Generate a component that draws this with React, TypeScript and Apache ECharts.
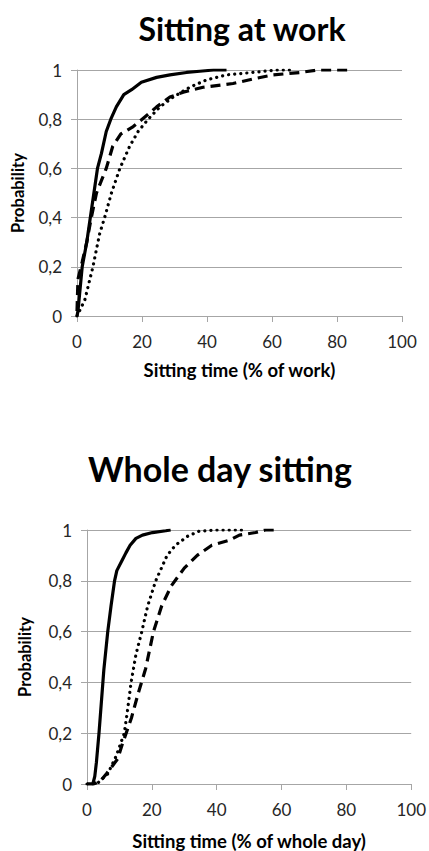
import React, { useEffect, useRef } from "react";
import * as echarts from "echarts";

// Top chart: Sitting at work (x = % of work, y = cumulative probability)
const workSolid: [number, number][] = [
  [0, 0], [0.3, 0.02], [1.6, 0.2], [3, 0.3], [4.1, 0.4], [5.2, 0.5], [6.3, 0.6], [7.5, 0.66],
  [9, 0.75], [10.4, 0.8], [12.1, 0.85], [14.4, 0.9], [16.8, 0.92], [17.8, 0.93], [19.8, 0.95],
  [24.5, 0.97], [28.6, 0.98], [33.7, 0.99], [37.8, 0.995], [42, 1], [46, 1],
];
const workDashed: [number, number][] = [
  [0, 0.02], [0.3, 0.15], [1.6, 0.22], [3, 0.3], [4.4, 0.4], [6, 0.5], [7.5, 0.55], [9, 0.6],
  [11, 0.69], [13.5, 0.74], [17.3, 0.77], [21.9, 0.82], [24.5, 0.85], [28.6, 0.89], [32.7, 0.91],
  [38.8, 0.93], [48, 0.945], [55, 0.966], [60.4, 0.98], [68.7, 0.99], [74, 1], [84, 1],
];
const workDotted: [number, number][] = [
  [0, 0], [2.4, 0.065], [4.9, 0.2], [7, 0.336], [8.5, 0.4], [10.6, 0.5], [13.2, 0.6], [16.2, 0.69],
  [18.8, 0.75], [21.9, 0.8], [25.5, 0.85], [29.6, 0.89], [34.7, 0.93], [39.9, 0.96], [46, 0.98],
  [54, 0.99], [61.5, 1], [67, 1],
];

// Bottom chart: Whole day sitting (x = % of whole day)
const daySolid: [number, number][] = [
  [0, 0], [1.8, 0], [2.4, 0.03], [2.9, 0.085], [3.7, 0.2], [4.9, 0.4], [5.2, 0.45], [6.4, 0.6],
  [7.4, 0.7], [8.5, 0.8], [9.2, 0.84], [10.8, 0.88], [12, 0.91], [13.3, 0.94], [15.1, 0.967],
  [17.1, 0.98], [20.2, 0.99], [24.3, 0.997], [25.8, 1],
];
const dayDashed: [number, number][] = [
  [0, 0], [2, 0], [4, 0.01], [6, 0.04], [7.6, 0.067], [9.5, 0.1], [10.9, 0.157], [13.7, 0.26],
  [15.8, 0.357], [18.1, 0.455], [20.5, 0.6], [23, 0.7], [26, 0.78], [30, 0.85], [34, 0.9],
  [38.5, 0.94], [44, 0.96], [47, 0.98], [52, 0.99], [55, 1], [58, 1],
];
const dayDotted: [number, number][] = [
  [0, 0], [3, 0], [6.4, 0.04], [9, 0.11], [11.5, 0.2], [12.5, 0.29], [13.6, 0.4], [15.1, 0.51],
  [16.9, 0.6], [18.7, 0.7], [21.2, 0.8], [24.7, 0.9], [27.3, 0.94], [31, 0.975], [34.5, 0.995],
  [40, 1], [48, 1],
];

const titles = ["Sitting at work", "Whole day sitting"];
const xNames = ["Sitting time (% of work)", "Sitting time (% of whole day)"];
const yName = "Probability";

const FONT = "Lato, 'Open Sans', sans-serif";
const GRID_COLOR = "#a6a6a6";
const TEXT = "#262626";

export default function App() {
  const ref = useRef<HTMLDivElement>(null);
  useEffect(() => {
    document.body.style.margin = "0";
    if (!ref.current) return;
    const chart = echarts.init(ref.current, undefined, { renderer: "svg" });
    const xAxisBase = (gridIndex: number, name: string, gap: number) => ({
      type: "value" as const,
      gridIndex,
      min: 0,
      max: 100,
      interval: 20,
      name,
      nameLocation: "middle" as const,
      nameGap: gap,
      nameTextStyle: { fontFamily: FONT, fontWeight: "bold", fontSize: 18.5, color: "#000" },
      axisLine: { show: true, lineStyle: { color: GRID_COLOR, width: 1 } },
      axisTick: { show: true, length: 6, inside: false, lineStyle: { color: GRID_COLOR } },
      axisLabel: { fontFamily: FONT, fontSize: 17, color: TEXT, margin: 17 },
      splitLine: { show: false },
    });
    const yAxisBase = (gridIndex: number, gap: number) => ({
      type: "value" as const,
      gridIndex,
      min: 0,
      max: 1,
      interval: 0.2,
      name: yName,
      nameLocation: "middle" as const,
      nameRotate: 90,
      nameGap: gap,
      nameTextStyle: { fontFamily: FONT, fontWeight: "bold", fontSize: 16.5, color: "#000" },
      axisLine: { show: true, lineStyle: { color: GRID_COLOR, width: 1 } },
      axisTick: { show: true, length: 6, lineStyle: { color: GRID_COLOR } },
      axisLabel: {
        fontFamily: FONT,
        fontSize: 17,
        color: TEXT,
        margin: 15,
        formatter: (v: number) => String(Math.round(v * 10) / 10).replace(".", ","),
      },
      splitLine: { show: true, lineStyle: { color: GRID_COLOR, width: 1 } },
    });
    const solid = { color: "#000", width: 3.2, type: "solid" as const };
    const dashed = { color: "#000", width: 3.2, type: [10, 6], cap: "butt" as const };
    const dotted = { color: "#000", width: 3.2, type: [0.1, 6], cap: "round" as const };
    const mk = (data: [number, number][], idx: number, ls: any, z: number) => ({
      type: "line" as const,
      xAxisIndex: idx,
      yAxisIndex: idx,
      data,
      showSymbol: false,
      symbol: "none",
      smooth: false,
      lineStyle: ls,
      z,
    });
    chart.setOption({
      animation: false,
      backgroundColor: "#fff",
      grid: [
        { left: 77, top: 70, width: 325, height: 246 },
        { left: 87, top: 530, width: 327, height: 255 },
      ],
      xAxis: [xAxisBase(0, xNames[0], 44), xAxisBase(1, xNames[1], 47)],
      yAxis: [yAxisBase(0, 51), yAxisBase(1, 54)],
      graphic: [
        {
          type: "text",
          x: 242,
          y: 28,
          style: {
            text: titles[0],
            fontFamily: FONT,
            fontWeight: "bold",
            fontSize: 32,
            fill: "#000",
            textAlign: "center",
            textVerticalAlign: "middle",
          },
        },
        {
          type: "text",
          x: 220,
          y: 468,
          style: {
            text: titles[1],
            fontFamily: FONT,
            fontWeight: "bold",
            fontSize: 34,
            fill: "#000",
            textAlign: "center",
            textVerticalAlign: "middle",
          },
        },
      ],
      series: [
        mk(workDotted, 0, dotted, 3),
        mk(workDashed, 0, dashed, 4),
        mk(workSolid, 0, solid, 5),
        mk(dayDotted, 1, dotted, 3),
        mk(dayDashed, 1, dashed, 4),
        mk(daySolid, 1, solid, 5),
      ],
    });
    return () => chart.dispose();
  }, []);
  return (
    <div
      ref={ref}
      style={{ position: "absolute", left: 0, top: 0, width: 429, height: 851, background: "#fff" }}
    />
  );
}
